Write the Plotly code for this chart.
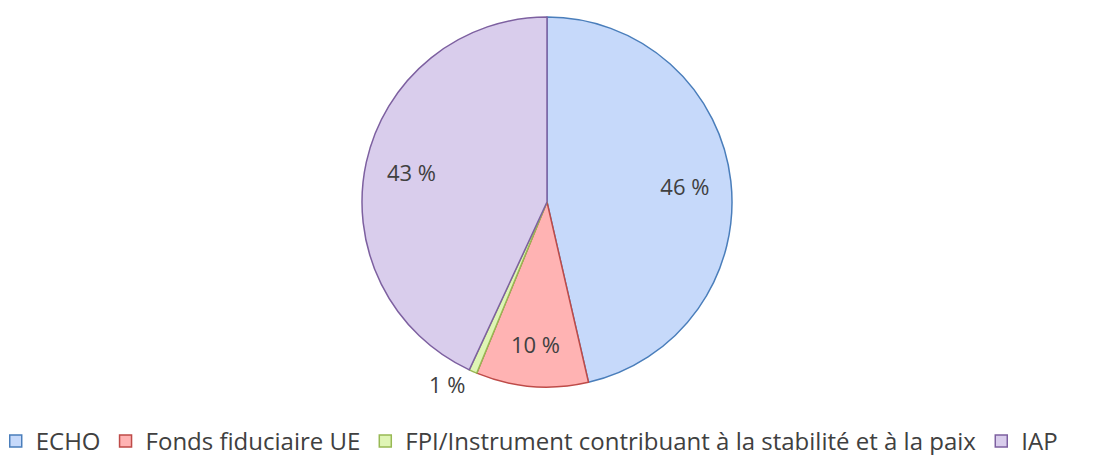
import plotly.graph_objects as go

categories = ["ECHO", "Fonds fiduciaire UE", "FPI/Instrument contribuant à la stabilité et à la paix", "IAP"]
values = [46.4, 9.8, 0.7, 43.1]
labels_text = ["46 %", "10 %", "1 %", "43 %"]

fill_colors = ["#c6d9fa", "#ffb3b3", "#dff5b5", "#d9cdec"]
line_colors = ["#4a7ebb", "#be4b48", "#98b954", "#7d60a0"]

W, H = 1116, 455
cx, cy, r = 539, 194, 185
dom = dict(x=[(cx - r) / W, (cx + r) / W], y=[1 - (cy + r) / H, 1 - (cy - r) / H])
font = dict(family="Open Sans", size=22, color="#404040")

# main pie (slices + outside label for the tiny slice)
fig = go.Figure(go.Pie(
    labels=categories,
    values=values,
    text=labels_text,
    texttemplate="%{text}",
    textposition=["none", "none", "outside", "none"],
    sort=False,
    direction="clockwise",
    rotation=0,
    marker=dict(colors=fill_colors, line=dict(color=line_colors, width=1.5)),
    textfont=font,
    domain=dom,
    hoverinfo="label+percent",
))

# transparent ring used only to place the inside labels further out
fig.add_trace(go.Pie(
    labels=categories,
    values=values,
    text=labels_text,
    texttemplate="%{text}",
    textposition=["inside", "inside", "none", "inside"],
    insidetextorientation="horizontal",
    sort=False,
    direction="clockwise",
    rotation=0,
    hole=0.5,
    marker=dict(colors=["rgba(0,0,0,0)"] * 4, line=dict(width=0)),
    textfont=font,
    domain=dom,
    showlegend=False,
    hoverinfo="skip",
))

fig.update_layout(
    width=W, height=H,
    margin=dict(l=0, r=0, t=0, b=0, autoexpand=False),
    paper_bgcolor="white",
    showlegend=True,
    legend=dict(
        orientation="h", x=-0.011, xanchor="left", y=-0.002, yanchor="bottom",
        font=dict(family="Open Sans", size=24, color="#404040"),
        itemwidth=30, tracegroupgap=0,
    ),
)

fig.write_html("out.html")
